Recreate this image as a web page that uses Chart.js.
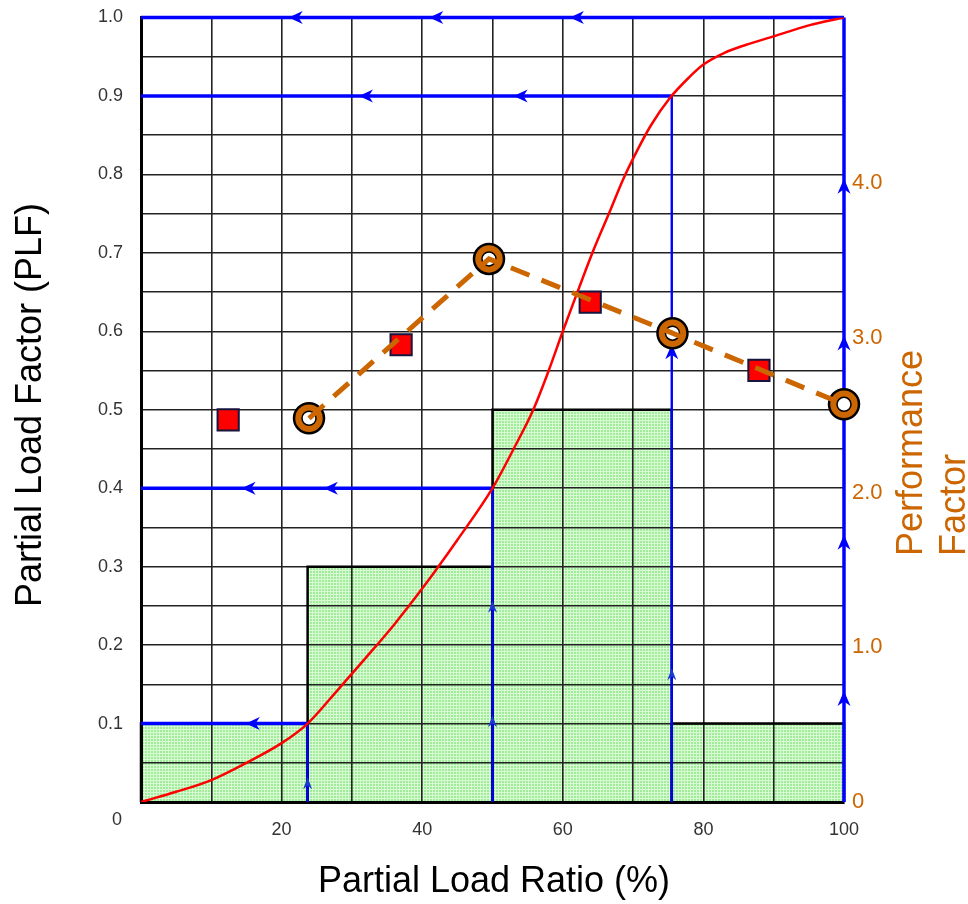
<!DOCTYPE html>
<html><head><meta charset="utf-8">
<script src="https://cdn.jsdelivr.net/npm/chart.js@4/dist/chart.umd.min.js"></script>
<style>html,body{margin:0;padding:0;background:#fff;overflow:hidden}#wrap{width:968px;height:904px}</style>
</head><body><div id="wrap"><canvas id="c" width="968" height="904"></canvas></div>
<script>
// ---- data ----
const plrCurve = [0, 5, 10, 15, 20, 23.7, 28, 32, 36, 40, 45, 50, 53, 55.8, 58, 60, 62, 64.3, 66.7, 68.5, 70.5, 72.5, 75.2, 78, 80, 83, 86, 90, 95, 100];
const plfCurve = [0, 0.013, 0.028, 0.05, 0.075, 0.1, 0.143, 0.184, 0.226, 0.272, 0.334, 0.4, 0.45, 0.5, 0.55, 0.6, 0.648, 0.702, 0.753, 0.792, 0.829, 0.862, 0.897, 0.924, 0.94, 0.955, 0.965, 0.976, 0.99, 1.0];
const barEdges = [0, 23.7, 50, 75.5, 100];
const barHeights = [0.1, 0.3, 0.5, 0.1];
const stepX = [23.7, 50, 75.5, 100];
const stepY = [0.1, 0.4, 0.9, 1.0];
const squareX = [12.4, 37, 63.9, 87.9];
const squarePF = [2.47, 2.955, 3.23, 2.79];
const circleX = [23.9, 49.5, 75.6, 100];
const circlePF = [2.48, 3.51, 3.03, 2.57];
const arrowLeftX = [22, 42, 62, 32, 54, 15.3, 27, 15.9];
const arrowLeftY = [1.0, 1.0, 1.0, 0.9, 0.9, 0.4, 0.4, 0.1];
const arrowUpX = [23.7, 50, 50, 75.5, 75.5, 100, 100, 100, 100];
const arrowUpY = [0.024, 0.103, 0.249, 0.163, 0.574, 0.132, 0.331, 0.585, 0.785];
const xTickLabels = [20, 40, 60, 80, 100];
const pfTickLabels = [0, 1, 2, 3, 4];
const xTitle = 'Partial Load Ratio (%)';
const yTitle = 'Partial Load Factor (PLF)';
const y2Title = ['Performance', 'Factor'];

// ---- styles ----
const ORANGE = '#CC6600';
const BLUE = '#0000FF';
const FONT = "'Liberation Sans', Arial, sans-serif";

// green dotted texture for the histogram bars
const pc = document.createElement('canvas');
pc.width = 3; pc.height = 3;
const pctx = pc.getContext('2d');
pctx.fillStyle = 'rgb(160,236,155)'; pctx.fillRect(0, 0, 3, 3);
pctx.fillStyle = 'rgb(215,250,210)'; pctx.fillRect(0, 0, 3, 1); pctx.fillRect(0, 0, 1, 3);
const canvas = document.getElementById('c');
const ctx = canvas.getContext('2d');
const greenPattern = ctx.createPattern(pc, 'repeat');

const datasets = [];
// bars
for (let i = 0; i < barHeights.length; i++) {
  const a = barEdges[i], b = barEdges[i + 1], h = barHeights[i];
  datasets.push({
    label: 'bar' + i, data: [{x: a, y: 0}, {x: a, y: h}, {x: b, y: h}, {x: b, y: 0}],
    fill: 'origin', backgroundColor: greenPattern, borderColor: '#000', borderWidth: 2.5,
    pointRadius: 0, yAxisID: 'y', order: 10, clip: false
  });
}
// blue step paths
for (let i = 0; i < stepX.length; i++) {
  datasets.push({
    label: 'v' + i, data: [{x: stepX[i], y: 0}, {x: stepX[i], y: stepY[i]}],
    borderColor: BLUE, borderWidth: i === stepX.length - 1 ? 3.5 : 2.4, pointRadius: 0,
    yAxisID: 'y', order: 8, clip: false
  });
  datasets.push({
    label: 'h' + i, data: [{x: stepX[i], y: stepY[i]}, {x: 0, y: stepY[i]}],
    borderColor: BLUE, borderWidth: 3.5, pointRadius: 0, yAxisID: 'y', order: 8, clip: false
  });
}
// PLF curve
datasets.push({
  label: 'PLF', data: plrCurve.map((x, i) => ({x, y: plfCurve[i]})),
  borderColor: '#FF0000', borderWidth: 2.5, pointRadius: 0, tension: 0.4,
  cubicInterpolationMode: 'monotone', yAxisID: 'y', order: 6
});
// red squares
datasets.push({
  label: 'sq', data: squareX.map((x, i) => ({x, y: squarePF[i]})), showLine: false,
  pointStyle: 'rect', pointRadius: 15, backgroundColor: '#FF0000', borderColor: '#15153F',
  borderWidth: 2, yAxisID: 'y2', order: 5, clip: false
});
// circles
datasets.push({
  label: 'cOuter', data: circleX.map((x, i) => ({x, y: circlePF[i]})), showLine: false,
  pointStyle: 'circle', pointRadius: 15, backgroundColor: ORANGE, borderColor: '#000',
  borderWidth: 2.5, yAxisID: 'y2', order: 4, clip: false
});
datasets.push({
  label: 'cInner', data: circleX.map((x, i) => ({x, y: circlePF[i]})), showLine: false,
  pointStyle: 'circle', pointRadius: 7, backgroundColor: '#FFF', borderColor: '#000',
  borderWidth: 1.5, yAxisID: 'y2', order: 3, clip: false
});
datasets.push({
  label: 'dash', data: circleX.map((x, i) => ({x, y: circlePF[i]})),
  borderColor: ORANGE, borderWidth: 5, borderDash: [20, 13], pointRadius: 0,
  yAxisID: 'y2', order: 2, clip: false
});

function barHeightAt(x) {
  let m = 0;
  for (let i = 0; i < barHeights.length; i++) {
    if (x >= barEdges[i] - 0.01 && x <= barEdges[i + 1] + 0.01) m = Math.max(m, barHeights[i]);
  }
  return m;
}

function drawArrow(c, px, py, dx, dy, L, W, style) {
  const nx = -dy, ny = dx;
  c.beginPath();
  c.moveTo(px + dx * L / 2, py + dy * L / 2);
  c.lineTo(px - dx * L / 2 + nx * W / 2, py - dy * L / 2 + ny * W / 2);
  c.lineTo(px - dx * L / 5, py - dy * L / 5);
  c.lineTo(px - dx * L / 2 - nx * W / 2, py - dy * L / 2 - ny * W / 2);
  c.closePath();
  c.fillStyle = style === 'small' ? '#1a3ad0' : BLUE;
  c.fill();
}

const arrowPlugin = {
  id: 'arrows',
  beforeDatasetDraw(chart, args) {
    if (chart.data.datasets[args.index].label !== 'PLF') return;
    const c = chart.ctx, xs = chart.scales.x, ys = chart.scales.y;
    c.save();
    for (let i = 0; i < arrowLeftX.length; i++) {
      drawArrow(c, xs.getPixelForValue(arrowLeftX[i]), ys.getPixelForValue(arrowLeftY[i]), -1, 0, 14, 13, 'big');
    }
    for (let i = 0; i < arrowUpX.length; i++) {
      const inside = arrowUpY[i] < barHeightAt(arrowUpX[i]) && arrowUpX[i] < 100;
      drawArrow(c, xs.getPixelForValue(arrowUpX[i]), ys.getPixelForValue(arrowUpY[i]), 0, -1,
        inside ? 12 : 15, inside ? 9 : 13, inside ? 'small' : 'big');
    }
    c.restore();
  }
};

const titlePlugin = {
  id: 'titles',
  afterDraw(chart) {
    const c = chart.ctx, area = chart.chartArea;
    c.save();
    c.font = '36px ' + FONT;
    c.fillStyle = '#000';
    c.textAlign = 'center'; c.textBaseline = 'middle';
    c.fillText(xTitle, 494, 882);
    c.save(); c.translate(31, 405); c.rotate(-Math.PI / 2); c.fillText(yTitle, 0, 0); c.restore();
    c.fillStyle = ORANGE;
    c.textAlign = 'left';
    const cx = [912, 955];
    y2Title.forEach((t, i) => {
      c.save(); c.translate(cx[i], 556); c.rotate(-Math.PI / 2); c.fillText(t, 0, 0); c.restore();
    });
    // shared origin label
    c.font = '18px ' + FONT; c.fillStyle = '#333'; c.textAlign = 'center';
    c.fillText('0', area.left - 24, area.bottom + 18);
    c.restore();
  }
};

new Chart(ctx, {
  type: 'line',
  data: {datasets},
  options: {
    responsive: false, animation: false, events: [],
    layout: {padding: {top: 16, left: 0, right: 0, bottom: 0}},
    plugins: {legend: {display: false}, tooltip: {enabled: false}, filler: {drawTime: 'beforeDraw'}},
    scales: {
      x: {
        type: 'linear', min: 0, max: 100,
        ticks: {stepSize: 10, autoSkip: false, maxRotation: 0, padding: 17, color: '#333',
          font: {family: FONT, size: 18},
          callback: v => xTickLabels.includes(Math.round(v)) && Math.abs(v - Math.round(v)) < 1e-6 ? String(Math.round(v)) : ''},
        grid: {color: '#222', lineWidth: 1.6, drawTicks: false},
        border: {display: true, color: '#000', width: 3},
        afterFit: s => { s.height = 102; s.paddingLeft = 0; s.paddingRight = 0; }
      },
      y: {
        position: 'left', min: 0, max: 1,
        ticks: {stepSize: 0.05, autoSkip: false, padding: 18, color: '#333',
          font: {family: FONT, size: 18},
          callback: v => { const r = Math.round(v * 100); return (r % 10 === 0 && r > 0) ? (r / 100).toFixed(1) : ''; }},
        grid: {color: '#222', lineWidth: 1.6, drawTicks: false},
        border: {display: true, color: '#000', width: 3},
        afterFit: s => { s.width = 141; s.paddingTop = 0; s.paddingBottom = 0; }
      },
      y2: {
        position: 'right', min: 0, max: 5.07,
        ticks: {stepSize: 1, autoSkip: false, padding: 8, color: ORANGE,
          font: {family: FONT, size: 22},
          callback: v => pfTickLabels.includes(v) ? (v === 0 ? '0' : v.toFixed(1)) : ''},
        grid: {display: false, drawTicks: false},
        border: {display: false},
        afterFit: s => { s.width = 124; s.paddingTop = 0; s.paddingBottom = 0; }
      }
    }
  },
  plugins: [arrowPlugin, titlePlugin]
});
</script>
</body></html>
